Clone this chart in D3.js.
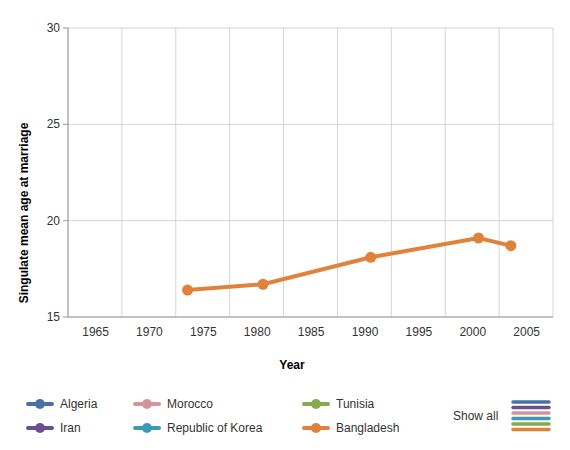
<!DOCTYPE html><html><head><script src="https://cdn.jsdelivr.net/npm/d3@7"></script>
<style>body{margin:0}svg{font-family:"Liberation Sans",Arial,sans-serif}</style></head><body><svg id="c" width="570" height="450"></svg><script>
const years=[1974,1981,1991,2001,2004];
const bangladesh=[16.4,16.7,18.1,19.1,18.7];
const xTicks=[1965,1970,1975,1980,1985,1990,1995,2000,2005];
const yTicks=[15,20,25,30];
const legendNames=["Algeria","Morocco","Tunisia","Iran","Republic of Korea","Bangladesh"];
const legendColors=["#4872a6","#d4949a","#86a94a","#6b4f8c","#3b9ab6","#e0823c"];
const svg=d3.select("#c");
const x=d3.scaleLinear().domain([1963,2008]).range([68,553]);
const y=d3.scaleLinear().domain([15,30]).range([317,28]);
const grid=d3.range(1963,2009,5);
svg.selectAll(".vg").data(grid).join("line").attr("x1",d=>x(d)).attr("x2",d=>x(d)).attr("y1",28).attr("y2",317).attr("stroke","#d4d4d4");
svg.selectAll(".hg").data(yTicks).join("line").attr("x1",68).attr("x2",553).attr("y1",d=>y(d)).attr("y2",d=>y(d)).attr("stroke","#d4d4d4");
svg.append("line").attr("x1",68).attr("x2",68).attr("y1",28).attr("y2",317).attr("stroke","#999");
svg.append("line").attr("x1",68).attr("x2",553).attr("y1",317).attr("y2",317).attr("stroke","#999");
svg.selectAll(".yt").data(yTicks).join("line").attr("x1",63).attr("x2",68).attr("y1",d=>y(d)).attr("y2",d=>y(d)).attr("stroke","#999");
svg.selectAll(".yl").data(yTicks).join("text").attr("x",60).attr("y",d=>y(d)+4).attr("text-anchor","end").attr("font-size",12).attr("fill","#333").text(d=>d);
svg.selectAll(".xl").data(xTicks).join("text").attr("x",d=>x(d)+6).attr("y",336).attr("text-anchor","middle").attr("font-size",12).attr("fill","#333").text(d=>d);
svg.append("text").attr("x",292).attr("y",369).attr("text-anchor","middle").attr("font-size",12).attr("font-weight","bold").text("Year");
svg.append("text").attr("transform","translate(28,213) rotate(-90)").attr("text-anchor","middle").attr("font-size",12).attr("font-weight","bold").text("Singulate mean age at marriage");
const pts=years.map((d,i)=>[d,bangladesh[i]]);
svg.append("path").datum(pts).attr("d",d3.line().x(d=>x(d[0])+1).y(d=>y(d[1]))).attr("fill","none").attr("stroke","#e0823c").attr("stroke-width",4);
svg.selectAll(".pt").data(pts).join("circle").attr("cx",d=>x(d[0])+1).attr("cy",d=>y(d[1])).attr("r",5.5).attr("fill","#e0823c");
legendNames.forEach((n,i)=>{const cx=[40,147,316][i%3],cy=i<3?404:428;
 svg.append("line").attr("x1",cx-12).attr("x2",cx+12).attr("y1",cy).attr("y2",cy).attr("stroke",legendColors[i]).attr("stroke-width",4).attr("stroke-linecap","round");
 svg.append("circle").attr("cx",cx).attr("cy",cy).attr("r",5).attr("fill",legendColors[i]);
 svg.append("text").attr("x",cx+20).attr("y",cy+4).attr("font-size",12).attr("fill","#333").text(n);});
svg.append("text").attr("x",453).attr("y",420).attr("font-size",12).attr("fill","#333").text("Show all");
["#4872a6","#6b4f8c","#d4949a","#3b9ab6","#86a94a","#e0823c"].forEach((c,i)=>svg.append("line").attr("x1",513).attr("x2",549).attr("y1",402+i*5.5).attr("y2",402+i*5.5).attr("stroke",c).attr("stroke-width",3.5).attr("stroke-linecap","round"));
</script></body></html>
